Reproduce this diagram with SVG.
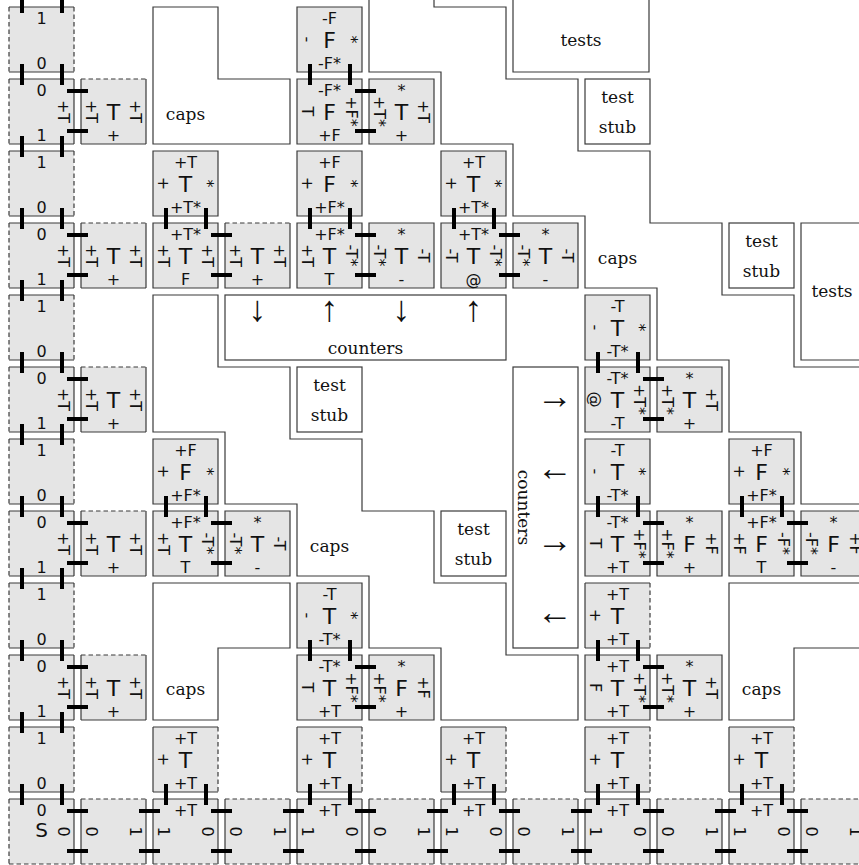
<svg xmlns="http://www.w3.org/2000/svg" width="859" height="865" viewBox="0 0 859 865">
<style>
.f{fill:#e5e5e5}
.e{fill:none;stroke:#3a3a3a;stroke-width:1.2}
.d{stroke-dasharray:4.5 3}
.w{fill:#fff;stroke:#3a3a3a;stroke-width:1.2}
.ln{fill:none;stroke:#3a3a3a;stroke-width:1.2}
.bar{fill:none;stroke:#000;stroke-width:4}
.s{font-family:'DejaVu Sans',sans-serif;font-size:16px;text-anchor:middle;fill:#111}
.m{font-size:22px}
.lab{font-family:'DejaVu Serif',serif;font-size:17px;text-anchor:middle;fill:#111}
.ar{font-family:'Liberation Serif','DejaVu Serif',serif;font-size:36px;text-anchor:middle;fill:#111}
</style>
<rect width="859" height="865" fill="#fff"/>
<g id="regions">
<g id="capsTL"><path class="w" d="M153,7H218V79H290V144H153Z"/><text class="lab" x="185.5" y="120">caps</text></g>
<g id="testsTop"><path class="w" d="M513,-2V72H649V-2"/><text class="lab" x="581" y="46">tests</text></g>
<g id="stub1"><rect class="w" x="585" y="79" width="65" height="65"/><text class="lab" x="617.5" y="103">test</text><text class="lab" x="617.5" y="133">stub</text></g>
<g id="stub2"><rect class="w" x="729" y="223" width="65" height="65"/><text class="lab" x="761.5" y="247">test</text><text class="lab" x="761.5" y="277">stub</text></g>
<g id="testsRight"><path class="w" d="M866,223H801V360H866"/><text class="lab" x="832" y="297">tests</text></g>
<g id="capsR"><path class="ln" d="M434,-2V7H506V79H578V151H650V223H722V295H794V367H866"/><path class="ln" d="M369,-2V72H441V144H513V216H585V288H657V360H729V432H801V504H866"/><text class="lab" x="617.5" y="264">caps</text></g>
<g id="countersH"><rect class="w" x="225" y="295" width="281" height="65"/><text class="ar" x="257.5" y="321">↓</text><text class="ar" x="329.5" y="321">↑</text><text class="ar" x="401.5" y="321">↓</text><text class="ar" x="473.5" y="321">↑</text><text class="lab" x="365.5" y="354">counters</text></g>
<g id="countersV"><rect class="w" x="513" y="367" width="65" height="281"/><text class="lab" transform="translate(518,507.5) rotate(90)">counters</text><text class="ar" x="555" y="408">→</text><text class="ar" x="555" y="480">←</text><text class="ar" x="555" y="552">→</text><text class="ar" x="555" y="624">←</text></g>
<g id="caps2"><path class="w" d="M153,295H218V367H290V439H362V511H434V583H506V655H578V720H441V648H369V576H297V504H225V432H153Z"/><text class="lab" x="329.5" y="552">caps</text></g>
<g id="stub3"><rect class="w" x="297" y="367" width="65" height="65"/><text class="lab" x="329.5" y="391">test</text><text class="lab" x="329.5" y="421">stub</text></g>
<g id="stub4"><rect class="w" x="441" y="511" width="65" height="65"/><text class="lab" x="473.5" y="535">test</text><text class="lab" x="473.5" y="565">stub</text></g>
<g id="capsBL"><path class="w" d="M153,583H290V648H218V720H153Z"/><text class="lab" x="185.5" y="695">caps</text></g>
<g id="capsBR"><path class="w" d="M866,583H729V720H794V648H866"/><text class="lab" x="761.5" y="695">caps</text></g>
</g>
<g id="col0">
<g id="n0_0" transform="translate(9,7)"><rect class="f" width="65" height="65"/><path class="e" d="M0,0H65M0,65H65"/><path class="e d" d="M0,0V65M65,0V65"/><text class="s" x="32.5" y="16.5">1</text><text class="s" x="32.5" y="62">0</text></g>
<g id="n0_1" transform="translate(9,79)"><rect class="f" width="65" height="65"/><path class="e" d="M0,0H65M0,65H65M65,0V65"/><path class="e d" d="M0,0V65"/><text class="s" x="32.5" y="16.5">0</text><text class="s" transform="translate(55,32.5) rotate(90)" y="5.6">+T</text><text class="s" x="32.5" y="62">1</text></g>
<g id="n0_2" transform="translate(9,151)"><rect class="f" width="65" height="65"/><path class="e" d="M0,0H65M0,65H65"/><path class="e d" d="M0,0V65M65,0V65"/><text class="s" x="32.5" y="16.5">1</text><text class="s" x="32.5" y="62">0</text></g>
<g id="n0_3" transform="translate(9,223)"><rect class="f" width="65" height="65"/><path class="e" d="M0,0H65M0,65H65M65,0V65"/><path class="e d" d="M0,0V65"/><text class="s" x="32.5" y="16.5">0</text><text class="s" transform="translate(55,32.5) rotate(90)" y="5.6">+T</text><text class="s" x="32.5" y="62">1</text></g>
<g id="n0_4" transform="translate(9,295)"><rect class="f" width="65" height="65"/><path class="e" d="M0,0H65M0,65H65"/><path class="e d" d="M0,0V65M65,0V65"/><text class="s" x="32.5" y="16.5">1</text><text class="s" x="32.5" y="62">0</text></g>
<g id="n0_5" transform="translate(9,367)"><rect class="f" width="65" height="65"/><path class="e" d="M0,0H65M0,65H65M65,0V65"/><path class="e d" d="M0,0V65"/><text class="s" x="32.5" y="16.5">0</text><text class="s" transform="translate(55,32.5) rotate(90)" y="5.6">+T</text><text class="s" x="32.5" y="62">1</text></g>
<g id="n0_6" transform="translate(9,439)"><rect class="f" width="65" height="65"/><path class="e" d="M0,0H65M0,65H65"/><path class="e d" d="M0,0V65M65,0V65"/><text class="s" x="32.5" y="16.5">1</text><text class="s" x="32.5" y="62">0</text></g>
<g id="n0_7" transform="translate(9,511)"><rect class="f" width="65" height="65"/><path class="e" d="M0,0H65M0,65H65M65,0V65"/><path class="e d" d="M0,0V65"/><text class="s" x="32.5" y="16.5">0</text><text class="s" transform="translate(55,32.5) rotate(90)" y="5.6">+T</text><text class="s" x="32.5" y="62">1</text></g>
<g id="n0_8" transform="translate(9,583)"><rect class="f" width="65" height="65"/><path class="e" d="M0,0H65M0,65H65"/><path class="e d" d="M0,0V65M65,0V65"/><text class="s" x="32.5" y="16.5">1</text><text class="s" x="32.5" y="62">0</text></g>
<g id="n0_9" transform="translate(9,655)"><rect class="f" width="65" height="65"/><path class="e" d="M0,0H65M0,65H65M65,0V65"/><path class="e d" d="M0,0V65"/><text class="s" x="32.5" y="16.5">0</text><text class="s" transform="translate(55,32.5) rotate(90)" y="5.6">+T</text><text class="s" x="32.5" y="62">1</text></g>
<g id="n0_10" transform="translate(9,727)"><rect class="f" width="65" height="65"/><path class="e" d="M0,0H65M0,65H65"/><path class="e d" d="M0,0V65M65,0V65"/><text class="s" x="32.5" y="16.5">1</text><text class="s" x="32.5" y="62">0</text></g>
<g id="n0_11" transform="translate(9,799)"><rect class="f" width="65" height="65"/><path class="e" d="M0,0H65M65,0V65"/><path class="e d" d="M0,0V65M0,65H65"/><text class="s" x="32.5" y="16.5">0</text><text class="s" x="32.5" y="38" style="font-size:20px">S</text><text class="s" transform="translate(55,32.5) rotate(90)" y="5.6">0</text></g>
</g>
<g id="col1">
<g id="n1_1" transform="translate(81,79)"><rect class="f" width="65" height="65"/><path class="e" d="M0,0V65M65,0V65M0,65H65"/><path class="e d" d="M0,0H65"/><text class="s" transform="translate(10.5,32.5) rotate(90)" y="5.6">+T</text><text class="s m" x="32.5" y="40.5">T</text><text class="s" transform="translate(55,32.5) rotate(90)" y="5.6">+T</text><text class="s" x="32.5" y="61.5">+</text></g>
<g id="n1_3" transform="translate(81,223)"><rect class="f" width="65" height="65"/><path class="e" d="M0,0V65M65,0V65M0,65H65"/><path class="e d" d="M0,0H65"/><text class="s" transform="translate(10.5,32.5) rotate(90)" y="5.6">+T</text><text class="s m" x="32.5" y="40.5">T</text><text class="s" transform="translate(55,32.5) rotate(90)" y="5.6">+T</text><text class="s" x="32.5" y="61.5">+</text></g>
<g id="n1_5" transform="translate(81,367)"><rect class="f" width="65" height="65"/><path class="e" d="M0,0V65M65,0V65M0,65H65"/><path class="e d" d="M0,0H65"/><text class="s" transform="translate(10.5,32.5) rotate(90)" y="5.6">+T</text><text class="s m" x="32.5" y="40.5">T</text><text class="s" transform="translate(55,32.5) rotate(90)" y="5.6">+T</text><text class="s" x="32.5" y="61.5">+</text></g>
<g id="n1_7" transform="translate(81,511)"><rect class="f" width="65" height="65"/><path class="e" d="M0,0V65M65,0V65M0,65H65"/><path class="e d" d="M0,0H65"/><text class="s" transform="translate(10.5,32.5) rotate(90)" y="5.6">+T</text><text class="s m" x="32.5" y="40.5">T</text><text class="s" transform="translate(55,32.5) rotate(90)" y="5.6">+T</text><text class="s" x="32.5" y="61.5">+</text></g>
<g id="n1_9" transform="translate(81,655)"><rect class="f" width="65" height="65"/><path class="e" d="M0,0V65M65,0V65M0,65H65"/><path class="e d" d="M0,0H65"/><text class="s" transform="translate(10.5,32.5) rotate(90)" y="5.6">+T</text><text class="s m" x="32.5" y="40.5">T</text><text class="s" transform="translate(55,32.5) rotate(90)" y="5.6">+T</text><text class="s" x="32.5" y="61.5">+</text></g>
</g>
<g id="row11">
<g id="n1_11" transform="translate(81,799)"><rect class="f" width="65" height="65"/><path class="e" d="M0,0V65M65,0V65"/><path class="e d" d="M0,0H65M0,65H65"/><text class="s" transform="translate(10.5,32.5) rotate(90)" y="5.6">0</text><text class="s" transform="translate(55,32.5) rotate(90)" y="5.6">1</text></g>
<g id="n2_11" transform="translate(153,799)"><rect class="f" width="65" height="65"/><path class="e" d="M0,0H65M0,0V65M65,0V65"/><path class="e d" d="M0,65H65"/><text class="s" x="32.5" y="16.5">+T</text><text class="s" transform="translate(10.5,32.5) rotate(90)" y="5.6">1</text><text class="s" transform="translate(55,32.5) rotate(90)" y="5.6">0</text></g>
<g id="n3_11" transform="translate(225,799)"><rect class="f" width="65" height="65"/><path class="e" d="M0,0V65M65,0V65"/><path class="e d" d="M0,0H65M0,65H65"/><text class="s" transform="translate(10.5,32.5) rotate(90)" y="5.6">0</text><text class="s" transform="translate(55,32.5) rotate(90)" y="5.6">1</text></g>
<g id="n4_11" transform="translate(297,799)"><rect class="f" width="65" height="65"/><path class="e" d="M0,0H65M0,0V65M65,0V65"/><path class="e d" d="M0,65H65"/><text class="s" x="32.5" y="16.5">+T</text><text class="s" transform="translate(10.5,32.5) rotate(90)" y="5.6">1</text><text class="s" transform="translate(55,32.5) rotate(90)" y="5.6">0</text></g>
<g id="n5_11" transform="translate(369,799)"><rect class="f" width="65" height="65"/><path class="e" d="M0,0V65M65,0V65"/><path class="e d" d="M0,0H65M0,65H65"/><text class="s" transform="translate(10.5,32.5) rotate(90)" y="5.6">0</text><text class="s" transform="translate(55,32.5) rotate(90)" y="5.6">1</text></g>
<g id="n6_11" transform="translate(441,799)"><rect class="f" width="65" height="65"/><path class="e" d="M0,0H65M0,0V65M65,0V65"/><path class="e d" d="M0,65H65"/><text class="s" x="32.5" y="16.5">+T</text><text class="s" transform="translate(10.5,32.5) rotate(90)" y="5.6">1</text><text class="s" transform="translate(55,32.5) rotate(90)" y="5.6">0</text></g>
<g id="n7_11" transform="translate(513,799)"><rect class="f" width="65" height="65"/><path class="e" d="M0,0V65M65,0V65"/><path class="e d" d="M0,0H65M0,65H65"/><text class="s" transform="translate(10.5,32.5) rotate(90)" y="5.6">0</text><text class="s" transform="translate(55,32.5) rotate(90)" y="5.6">1</text></g>
<g id="n8_11" transform="translate(585,799)"><rect class="f" width="65" height="65"/><path class="e" d="M0,0H65M0,0V65M65,0V65"/><path class="e d" d="M0,65H65"/><text class="s" x="32.5" y="16.5">+T</text><text class="s" transform="translate(10.5,32.5) rotate(90)" y="5.6">1</text><text class="s" transform="translate(55,32.5) rotate(90)" y="5.6">0</text></g>
<g id="n9_11" transform="translate(657,799)"><rect class="f" width="65" height="65"/><path class="e" d="M0,0V65M65,0V65"/><path class="e d" d="M0,0H65M0,65H65"/><text class="s" transform="translate(10.5,32.5) rotate(90)" y="5.6">0</text><text class="s" transform="translate(55,32.5) rotate(90)" y="5.6">1</text></g>
<g id="n10_11" transform="translate(729,799)"><rect class="f" width="65" height="65"/><path class="e" d="M0,0H65M0,0V65M65,0V65"/><path class="e d" d="M0,65H65"/><text class="s" x="32.5" y="16.5">+T</text><text class="s" transform="translate(10.5,32.5) rotate(90)" y="5.6">1</text><text class="s" transform="translate(55,32.5) rotate(90)" y="5.6">0</text></g>
<g id="n11_11" transform="translate(801,799)"><rect class="f" width="65" height="65"/><path class="e" d="M0,0V65M65,0V65"/><path class="e d" d="M0,0H65M0,65H65"/><text class="s" transform="translate(10.5,32.5) rotate(90)" y="5.6">0</text><text class="s" transform="translate(55,32.5) rotate(90)" y="5.6">1</text></g>
</g>
<g id="row10">
<g id="n2_10" transform="translate(153,727)"><rect class="f" width="65" height="65"/><path class="e" d="M0,0H65M0,0V65M0,65H65"/><path class="e d" d="M65,0V65"/><text class="s" x="32.5" y="16.5">+T</text><text class="s" transform="translate(10.5,32.5) rotate(90)" y="5.6">+</text><text class="s m" x="32.5" y="40.5">T</text><text class="s" x="32.5" y="61.5">+T</text></g>
<g id="n4_10" transform="translate(297,727)"><rect class="f" width="65" height="65"/><path class="e" d="M0,0H65M0,0V65M0,65H65"/><path class="e d" d="M65,0V65"/><text class="s" x="32.5" y="16.5">+T</text><text class="s" transform="translate(10.5,32.5) rotate(90)" y="5.6">+</text><text class="s m" x="32.5" y="40.5">T</text><text class="s" x="32.5" y="61.5">+T</text></g>
<g id="n6_10" transform="translate(441,727)"><rect class="f" width="65" height="65"/><path class="e" d="M0,0H65M0,0V65M0,65H65"/><path class="e d" d="M65,0V65"/><text class="s" x="32.5" y="16.5">+T</text><text class="s" transform="translate(10.5,32.5) rotate(90)" y="5.6">+</text><text class="s m" x="32.5" y="40.5">T</text><text class="s" x="32.5" y="61.5">+T</text></g>
<g id="n8_10" transform="translate(585,727)"><rect class="f" width="65" height="65"/><path class="e" d="M0,0H65M0,0V65M0,65H65"/><path class="e d" d="M65,0V65"/><text class="s" x="32.5" y="16.5">+T</text><text class="s" transform="translate(10.5,32.5) rotate(90)" y="5.6">+</text><text class="s m" x="32.5" y="40.5">T</text><text class="s" x="32.5" y="61.5">+T</text></g>
<g id="n10_10" transform="translate(729,727)"><rect class="f" width="65" height="65"/><path class="e" d="M0,0H65M0,0V65M0,65H65"/><path class="e d" d="M65,0V65"/><text class="s" x="32.5" y="16.5">+T</text><text class="s" transform="translate(10.5,32.5) rotate(90)" y="5.6">+</text><text class="s m" x="32.5" y="40.5">T</text><text class="s" x="32.5" y="61.5">+T</text></g>
</g>
<g id="inner">
<g id="n4_0" transform="translate(297,7)"><rect class="f" width="65" height="65"/><path class="e" d="M0,0H65V65H0Z"/><text class="s" x="32.5" y="16.5">-F</text><text class="s" transform="translate(10.5,32.5) rotate(90)" y="5.6">-</text><text class="s m" x="32.5" y="40.5">F</text><text class="s" transform="translate(55,32.5) rotate(90)" y="5.6">*</text><text class="s" x="32.5" y="61.5">-F*</text></g>
<g id="n4_1" transform="translate(297,79)"><rect class="f" width="65" height="65"/><path class="e" d="M0,0H65V65H0Z"/><text class="s" x="32.5" y="16.5">-F*</text><text class="s" transform="translate(10.5,32.5) rotate(90)" y="5.6">T</text><text class="s m" x="32.5" y="40.5">F</text><text class="s" transform="translate(55,32.5) rotate(90)" y="5.6">+F*</text><text class="s" x="32.5" y="61.5">+F</text></g>
<g id="n5_1" transform="translate(369,79)"><rect class="f" width="65" height="65"/><path class="e" d="M0,0H65V65H0Z"/><text class="s" x="32.5" y="16.5">*</text><text class="s" transform="translate(10.5,32.5) rotate(90)" y="5.6">+T*</text><text class="s m" x="32.5" y="40.5">T</text><text class="s" transform="translate(55,32.5) rotate(90)" y="5.6">+T</text><text class="s" x="32.5" y="61.5">+</text></g>
<g id="n2_2" transform="translate(153,151)"><rect class="f" width="65" height="65"/><path class="e" d="M0,0H65V65H0Z"/><text class="s" x="32.5" y="16.5">+T</text><text class="s" transform="translate(10.5,32.5) rotate(90)" y="5.6">+</text><text class="s m" x="32.5" y="40.5">T</text><text class="s" transform="translate(55,32.5) rotate(90)" y="5.6">*</text><text class="s" x="32.5" y="61.5">+T*</text></g>
<g id="n4_2" transform="translate(297,151)"><rect class="f" width="65" height="65"/><path class="e" d="M0,0H65V65H0Z"/><text class="s" x="32.5" y="16.5">+F</text><text class="s" transform="translate(10.5,32.5) rotate(90)" y="5.6">+</text><text class="s m" x="32.5" y="40.5">F</text><text class="s" transform="translate(55,32.5) rotate(90)" y="5.6">*</text><text class="s" x="32.5" y="61.5">+F*</text></g>
<g id="n6_2" transform="translate(441,151)"><rect class="f" width="65" height="65"/><path class="e" d="M0,0H65V65H0Z"/><text class="s" x="32.5" y="16.5">+T</text><text class="s" transform="translate(10.5,32.5) rotate(90)" y="5.6">+</text><text class="s m" x="32.5" y="40.5">T</text><text class="s" transform="translate(55,32.5) rotate(90)" y="5.6">*</text><text class="s" x="32.5" y="61.5">+T*</text></g>
<g id="n2_3" transform="translate(153,223)"><rect class="f" width="65" height="65"/><path class="e" d="M0,0H65V65H0Z"/><text class="s" x="32.5" y="16.5">+T*</text><text class="s" transform="translate(10.5,32.5) rotate(90)" y="5.6">+T</text><text class="s m" x="32.5" y="40.5">T</text><text class="s" transform="translate(55,32.5) rotate(90)" y="5.6">+T</text><text class="s" x="32.5" y="61.5">F</text></g>
<g id="n3_3" transform="translate(225,223)"><rect class="f" width="65" height="65"/><path class="e" d="M0,0V65H65V0"/><path class="e d" d="M0,0H65"/><text class="s" transform="translate(10.5,32.5) rotate(90)" y="5.6">+T</text><text class="s m" x="32.5" y="40.5">T</text><text class="s" transform="translate(55,32.5) rotate(90)" y="5.6">+T</text><text class="s" x="32.5" y="61.5">+</text></g>
<g id="n4_3" transform="translate(297,223)"><rect class="f" width="65" height="65"/><path class="e" d="M0,0H65V65H0Z"/><text class="s" x="32.5" y="16.5">+F*</text><text class="s" transform="translate(10.5,32.5) rotate(90)" y="5.6">+T</text><text class="s m" x="32.5" y="40.5">T</text><text class="s" transform="translate(55,32.5) rotate(90)" y="5.6">-T*</text><text class="s" x="32.5" y="61.5">T</text></g>
<g id="n5_3" transform="translate(369,223)"><rect class="f" width="65" height="65"/><path class="e" d="M0,0H65V65H0Z"/><text class="s" x="32.5" y="16.5">*</text><text class="s" transform="translate(10.5,32.5) rotate(90)" y="5.6">-T*</text><text class="s m" x="32.5" y="40.5">T</text><text class="s" transform="translate(55,32.5) rotate(90)" y="5.6">-T</text><text class="s" x="32.5" y="61.5">-</text></g>
<g id="n6_3" transform="translate(441,223)"><rect class="f" width="65" height="65"/><path class="e" d="M0,0H65V65H0Z"/><text class="s" x="32.5" y="16.5">+T*</text><text class="s" transform="translate(10.5,32.5) rotate(90)" y="5.6">-T</text><text class="s m" x="32.5" y="40.5">T</text><text class="s" transform="translate(55,32.5) rotate(90)" y="5.6">-T*</text><text class="s" x="32.5" y="61.5">@</text></g>
<g id="n7_3" transform="translate(513,223)"><rect class="f" width="65" height="65"/><path class="e" d="M0,0H65V65H0Z"/><text class="s" x="32.5" y="16.5">*</text><text class="s" transform="translate(10.5,32.5) rotate(90)" y="5.6">-T*</text><text class="s m" x="32.5" y="40.5">T</text><text class="s" transform="translate(55,32.5) rotate(90)" y="5.6">-T</text><text class="s" x="32.5" y="61.5">-</text></g>
<g id="n8_4" transform="translate(585,295)"><rect class="f" width="65" height="65"/><path class="e" d="M0,0H65V65H0Z"/><text class="s" x="32.5" y="16.5">-T</text><text class="s" transform="translate(10.5,32.5) rotate(90)" y="5.6">-</text><text class="s m" x="32.5" y="40.5">T</text><text class="s" transform="translate(55,32.5) rotate(90)" y="5.6">*</text><text class="s" x="32.5" y="61.5">-T*</text></g>
<g id="n8_5" transform="translate(585,367)"><rect class="f" width="65" height="65"/><path class="e" d="M0,0H65V65H0Z"/><text class="s" x="32.5" y="16.5">-T*</text><text class="s" transform="translate(10.5,32.5) rotate(90)" y="5.6">@</text><text class="s m" x="32.5" y="40.5">T</text><text class="s" transform="translate(55,32.5) rotate(90)" y="5.6">+T*</text><text class="s" x="32.5" y="61.5">-T</text></g>
<g id="n9_5" transform="translate(657,367)"><rect class="f" width="65" height="65"/><path class="e" d="M0,0H65V65H0Z"/><text class="s" x="32.5" y="16.5">*</text><text class="s" transform="translate(10.5,32.5) rotate(90)" y="5.6">+T*</text><text class="s m" x="32.5" y="40.5">T</text><text class="s" transform="translate(55,32.5) rotate(90)" y="5.6">+T</text><text class="s" x="32.5" y="61.5">+</text></g>
<g id="n2_6" transform="translate(153,439)"><rect class="f" width="65" height="65"/><path class="e" d="M0,0H65V65H0Z"/><text class="s" x="32.5" y="16.5">+F</text><text class="s" transform="translate(10.5,32.5) rotate(90)" y="5.6">+</text><text class="s m" x="32.5" y="40.5">F</text><text class="s" transform="translate(55,32.5) rotate(90)" y="5.6">*</text><text class="s" x="32.5" y="61.5">+F*</text></g>
<g id="n8_6" transform="translate(585,439)"><rect class="f" width="65" height="65"/><path class="e" d="M0,0H65V65H0Z"/><text class="s" x="32.5" y="16.5">-T</text><text class="s" transform="translate(10.5,32.5) rotate(90)" y="5.6">-</text><text class="s m" x="32.5" y="40.5">T</text><text class="s" transform="translate(55,32.5) rotate(90)" y="5.6">*</text><text class="s" x="32.5" y="61.5">-T*</text></g>
<g id="n10_6" transform="translate(729,439)"><rect class="f" width="65" height="65"/><path class="e" d="M0,0H65V65H0Z"/><text class="s" x="32.5" y="16.5">+F</text><text class="s" transform="translate(10.5,32.5) rotate(90)" y="5.6">+</text><text class="s m" x="32.5" y="40.5">F</text><text class="s" transform="translate(55,32.5) rotate(90)" y="5.6">*</text><text class="s" x="32.5" y="61.5">+F*</text></g>
<g id="n2_7" transform="translate(153,511)"><rect class="f" width="65" height="65"/><path class="e" d="M0,0H65V65H0Z"/><text class="s" x="32.5" y="16.5">+F*</text><text class="s" transform="translate(10.5,32.5) rotate(90)" y="5.6">+T</text><text class="s m" x="32.5" y="40.5">T</text><text class="s" transform="translate(55,32.5) rotate(90)" y="5.6">-T*</text><text class="s" x="32.5" y="61.5">T</text></g>
<g id="n3_7" transform="translate(225,511)"><rect class="f" width="65" height="65"/><path class="e" d="M0,0H65V65H0Z"/><text class="s" x="32.5" y="16.5">*</text><text class="s" transform="translate(10.5,32.5) rotate(90)" y="5.6">-T*</text><text class="s m" x="32.5" y="40.5">T</text><text class="s" transform="translate(55,32.5) rotate(90)" y="5.6">-T</text><text class="s" x="32.5" y="61.5">-</text></g>
<g id="n8_7" transform="translate(585,511)"><rect class="f" width="65" height="65"/><path class="e" d="M0,0H65V65H0Z"/><text class="s" x="32.5" y="16.5">-T*</text><text class="s" transform="translate(10.5,32.5) rotate(90)" y="5.6">T</text><text class="s m" x="32.5" y="40.5">T</text><text class="s" transform="translate(55,32.5) rotate(90)" y="5.6">+F*</text><text class="s" x="32.5" y="61.5">+T</text></g>
<g id="n9_7" transform="translate(657,511)"><rect class="f" width="65" height="65"/><path class="e" d="M0,0H65V65H0Z"/><text class="s" x="32.5" y="16.5">*</text><text class="s" transform="translate(10.5,32.5) rotate(90)" y="5.6">+F*</text><text class="s m" x="32.5" y="40.5">F</text><text class="s" transform="translate(55,32.5) rotate(90)" y="5.6">+F</text><text class="s" x="32.5" y="61.5">+</text></g>
<g id="n10_7" transform="translate(729,511)"><rect class="f" width="65" height="65"/><path class="e" d="M0,0H65V65H0Z"/><text class="s" x="32.5" y="16.5">+F*</text><text class="s" transform="translate(10.5,32.5) rotate(90)" y="5.6">+F</text><text class="s m" x="32.5" y="40.5">F</text><text class="s" transform="translate(55,32.5) rotate(90)" y="5.6">-F*</text><text class="s" x="32.5" y="61.5">T</text></g>
<g id="n11_7" transform="translate(801,511)"><rect class="f" width="65" height="65"/><path class="e" d="M0,0H65V65H0Z"/><text class="s" x="32.5" y="16.5">*</text><text class="s" transform="translate(10.5,32.5) rotate(90)" y="5.6">-F*</text><text class="s m" x="32.5" y="40.5">F</text><text class="s" transform="translate(55,32.5) rotate(90)" y="5.6">+F</text><text class="s" x="32.5" y="61.5">-</text></g>
<g id="n4_8" transform="translate(297,583)"><rect class="f" width="65" height="65"/><path class="e" d="M0,0H65V65H0Z"/><text class="s" x="32.5" y="16.5">-T</text><text class="s" transform="translate(10.5,32.5) rotate(90)" y="5.6">-</text><text class="s m" x="32.5" y="40.5">T</text><text class="s" transform="translate(55,32.5) rotate(90)" y="5.6">*</text><text class="s" x="32.5" y="61.5">-T*</text></g>
<g id="n8_8" transform="translate(585,583)"><rect class="f" width="65" height="65"/><path class="e" d="M0,0H65M0,0V65M0,65H65"/><path class="e d" d="M65,0V65"/><text class="s" x="32.5" y="16.5">+T</text><text class="s" transform="translate(10.5,32.5) rotate(90)" y="5.6">+</text><text class="s m" x="32.5" y="40.5">T</text><text class="s" x="32.5" y="61.5">+T</text></g>
<g id="n4_9" transform="translate(297,655)"><rect class="f" width="65" height="65"/><path class="e" d="M0,0H65V65H0Z"/><text class="s" x="32.5" y="16.5">-T*</text><text class="s" transform="translate(10.5,32.5) rotate(90)" y="5.6">T</text><text class="s m" x="32.5" y="40.5">T</text><text class="s" transform="translate(55,32.5) rotate(90)" y="5.6">+F*</text><text class="s" x="32.5" y="61.5">+T</text></g>
<g id="n5_9" transform="translate(369,655)"><rect class="f" width="65" height="65"/><path class="e" d="M0,0H65V65H0Z"/><text class="s" x="32.5" y="16.5">*</text><text class="s" transform="translate(10.5,32.5) rotate(90)" y="5.6">+F*</text><text class="s m" x="32.5" y="40.5">F</text><text class="s" transform="translate(55,32.5) rotate(90)" y="5.6">+F</text><text class="s" x="32.5" y="61.5">+</text></g>
<g id="n8_9" transform="translate(585,655)"><rect class="f" width="65" height="65"/><path class="e" d="M0,0H65V65H0Z"/><text class="s" x="32.5" y="16.5">+T</text><text class="s" transform="translate(10.5,32.5) rotate(90)" y="5.6">F</text><text class="s m" x="32.5" y="40.5">T</text><text class="s" transform="translate(55,32.5) rotate(90)" y="5.6">+T*</text><text class="s" x="32.5" y="61.5">+T</text></g>
<g id="n9_9" transform="translate(657,655)"><rect class="f" width="65" height="65"/><path class="e" d="M0,0H65V65H0Z"/><text class="s" x="32.5" y="16.5">*</text><text class="s" transform="translate(10.5,32.5) rotate(90)" y="5.6">+T*</text><text class="s m" x="32.5" y="40.5">T</text><text class="s" transform="translate(55,32.5) rotate(90)" y="5.6">+T</text><text class="s" x="32.5" y="61.5">+</text></g>
</g>
<g id="connectors">
<path class="bar" d="M22,-8V13M62,-8V13M22,64V85M62,64V85M22,136V157M62,136V157M22,208V229M62,208V229M22,280V301M62,280V301M22,352V373M62,352V373M22,424V445M62,424V445M22,496V517M62,496V517M22,568V589M62,568V589M22,640V661M62,640V661M22,712V733M62,712V733M22,784V805M62,784V805"/>
<path class="bar" d="M310,64V85M350,64V85M166,208V229M206,208V229M310,208V229M350,208V229M454,208V229M494,208V229M598,352V373M638,352V373M166,496V517M206,496V517M598,496V517M638,496V517M742,496V517M782,496V517M310,640V661M350,640V661M598,640V661M638,640V661M166,784V805M206,784V805M310,784V805M350,784V805M454,784V805M494,784V805M598,784V805M638,784V805M742,784V805M782,784V805"/>
<path class="bar" d="M67,91H88M67,131H88M355,91H376M355,131H376M67,235H88M67,275H88M211,235H232M211,275H232M355,235H376M355,275H376M499,235H520M499,275H520M67,379H88M67,419H88M643,379H664M643,419H664M67,523H88M67,563H88M211,523H232M211,563H232M643,523H664M643,563H664M787,523H808M787,563H808M67,667H88M67,707H88M355,667H376M355,707H376M643,667H664M643,707H664"/>
<path class="bar" d="M67,811H88M67,851H88M139,811H160M139,851H160M211,811H232M211,851H232M283,811H304M283,851H304M355,811H376M355,851H376M427,811H448M427,851H448M499,811H520M499,851H520M571,811H592M571,851H592M643,811H664M643,851H664M715,811H736M715,851H736M787,811H808M787,851H808"/>
</g>
</svg>
